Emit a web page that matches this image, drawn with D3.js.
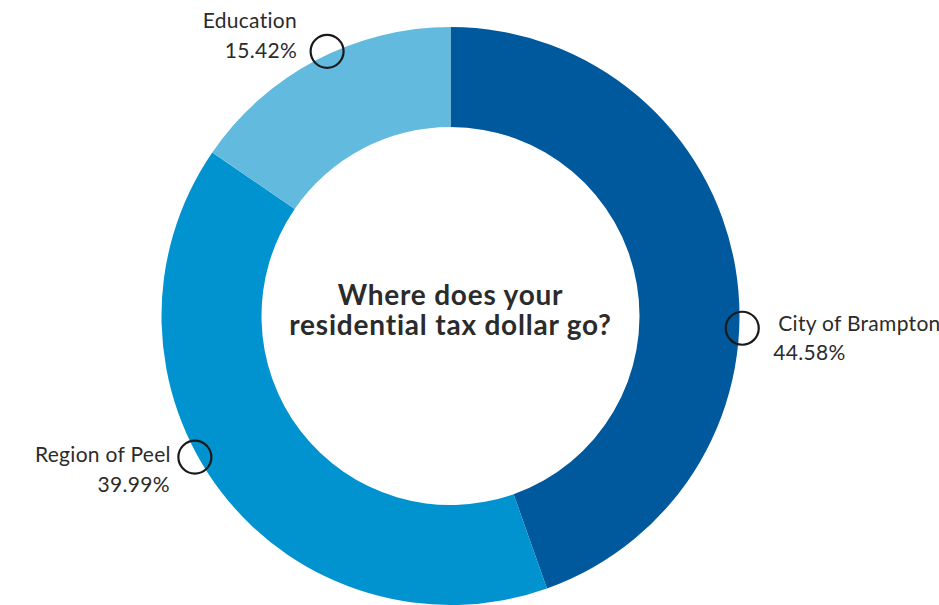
<!DOCTYPE html>
<html>
<head>
<meta charset="utf-8">
<script src="https://cdn.jsdelivr.net/npm/d3@7"></script>
<style>
  body { margin: 0; background: #fff; overflow: hidden; }
  svg { display: block; }
  text { font-family: Lato, "Noto Sans", sans-serif; fill: #2b2b2b; }
</style>
</head>
<body>
<div class="chart"></div>
<script>
"use strict";

const categories = ["City of Brampton", "Region of Peel", "Education"];
const shares = [44.58, 39.99, 15.42];
const shareLabels = ["44.58%", "39.99%", "15.42%"];
const colours = ["#00599d", "#0093d0", "#62bbdf"];
// where the small ring marker sits on each slice (degrees clockwise from 12 o'clock)
const markerAngles = [92.4, 241.1, 335];
// label offsets from the ring centre: [name dx, name dy, value dx, value dy]
const labelOffsets = [
  [36, 3, 31, 32],
  [-24, 5, -25, 35],
  [-30, -23, -30, 7]
];

const WIDTH = 939, HEIGHT = 605;
const CX = 450.5, CY = 316;
const OUTER = 289, INNER = 189;

const svg = d3.select(".chart")
  .append("svg")
  .attr("width", WIDTH)
  .attr("height", HEIGHT);

const g = svg.append("g").attr("transform", `translate(${CX},${CY})`);

const data = categories.map((c, i) => ({
  name: c, value: shares[i], label: shareLabels[i], colour: colours[i],
  marker: markerAngles[i], off: labelOffsets[i]
}));

const pie = d3.pie().sort(null).value((d) => d.value);
const arc = d3.arc().innerRadius(INNER).outerRadius(OUTER);

g.selectAll("path.slice")
  .data(pie(data))
  .join("path")
  .attr("class", "slice")
  .attr("d", arc)
  .attr("fill", (d) => d.data.colour);

// marker rings
const angleScale = d3.scaleLinear().domain([0, 360]).range([0, 2 * Math.PI]);
const MR = 292;
const pos = (d) => {
  const a = angleScale(d.marker);
  return [MR * Math.sin(a), -MR * Math.cos(a)];
};

g.selectAll("circle.marker")
  .data(data)
  .join("circle")
  .attr("class", "marker")
  .attr("cx", (d) => pos(d)[0])
  .attr("cy", (d) => pos(d)[1])
  .attr("r", 16.5)
  .attr("fill", "none")
  .attr("stroke", "#1a1a1a")
  .attr("stroke-width", 2.2);

const labels = g.selectAll("g.label")
  .data(data)
  .join("g")
  .attr("class", "label")
  .attr("transform", (d) => `translate(${pos(d)[0]},${pos(d)[1]})`);

const anchor = (d) => (pos(d)[0] > 0 ? "start" : "end");

labels.append("text")
  .attr("text-anchor", anchor)
  .attr("x", (d) => d.off[0])
  .attr("y", (d) => d.off[1])
  .attr("font-size", 21)
  .attr("letter-spacing", 0.3)
  .text((d) => d.name);

labels.append("text")
  .attr("text-anchor", anchor)
  .attr("x", (d) => d.off[2])
  .attr("y", (d) => d.off[3])
  .attr("font-size", 21)
  .attr("letter-spacing", 0.3)
  .text((d) => d.label);

// centre title
const title = g.append("text")
  .attr("text-anchor", "middle")
  .attr("font-size", 28)
  .attr("font-weight", 700)
  .attr("letter-spacing", 0.8);
title.append("tspan").attr("x", 0).attr("y", -11).text("Where does your");
title.append("tspan").attr("x", 0).attr("y", 19).text("residential tax dollar go?");
</script>
</body>
</html>
